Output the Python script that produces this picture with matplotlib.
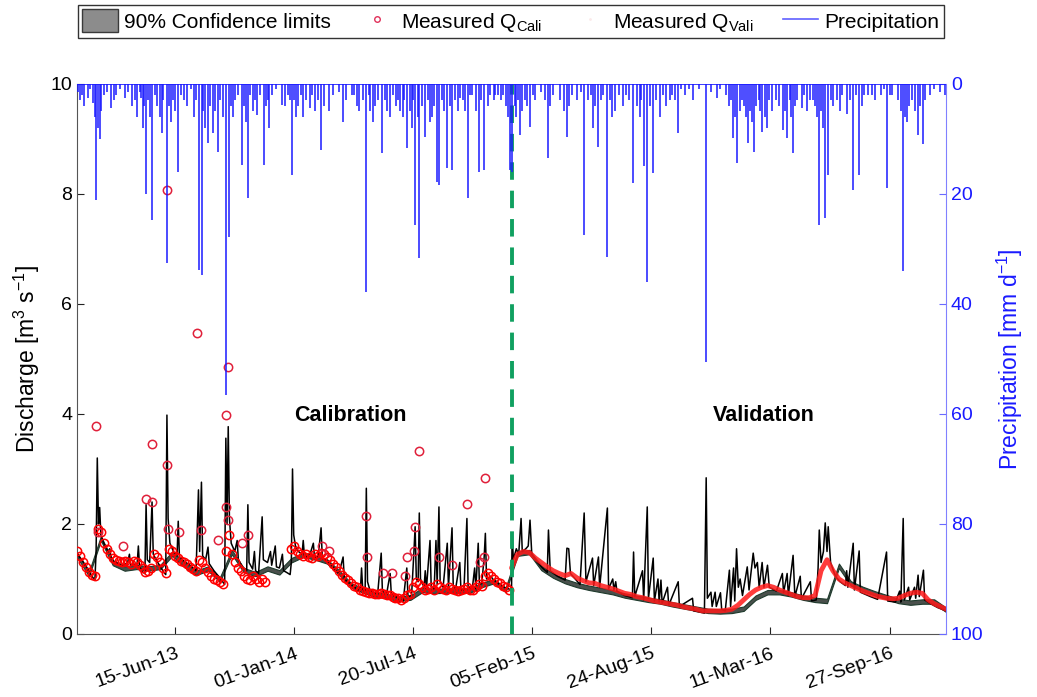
import numpy as np
import pandas as pd
import matplotlib
matplotlib.use("Agg")
import matplotlib.pyplot as plt
import matplotlib.dates as mdates
from matplotlib.patches import Patch
from matplotlib.lines import Line2D

plt.rcParams['font.family'] = ['Liberation Sans', 'DejaVu Sans']
plt.rcParams['mathtext.fontset'] = 'custom'
plt.rcParams['mathtext.rm'] = 'Liberation Sans'
plt.rcParams['mathtext.it'] = 'Liberation Sans:italic'
plt.rcParams['mathtext.bf'] = 'Liberation Sans:bold'

START = np.datetime64('2013-01-01')

# ---------------- data (days since 2013-01-01) ----------------
# simulated discharge, calibration period (2013-2014)
sim_days_cal = [0, 8, 17, 25, 30, 32, 34, 36, 38, 40, 45, 52, 55, 57, 62, 70, 78, 85, 88, 90, 101, 103, 105,
                111, 114, 116, 118, 122, 126, 128, 133, 140, 146, 149, 151, 153, 156, 162, 168, 170, 172, 180,
                190, 200, 204, 206, 209, 211, 216, 220, 222, 230, 240, 248, 250, 252, 254, 256, 259, 265, 269,
                271, 278, 285, 287, 289, 295, 298, 300, 305, 311, 313, 320, 325, 327, 333, 335, 340, 345, 347,
                352, 358, 360, 362, 364, 367, 372, 378, 380, 382, 390, 397, 399, 405, 410, 412, 420, 428, 435,
                440, 447, 449, 460, 470, 476, 478, 480, 484, 486, 488, 492, 500, 505, 511, 513, 520, 526, 528,
                535, 543, 548, 554, 556, 562, 566, 568, 570, 573, 575, 577, 583, 585, 587, 593, 595, 600, 603,
                605, 608, 610, 615, 622, 624, 630, 632, 636, 643, 645, 650, 655, 657, 664, 668, 670, 674, 676,
                680, 684, 686, 688, 695, 700, 710, 718, 725, 729]
sim_q_cal = [1.45, 1.35, 1.2, 1.05, 0.98, 1.5, 3.2, 2.0, 2.3, 1.8, 1.65, 1.5, 1.55, 1.4, 1.32, 1.28, 1.25, 1.3,
             1.45, 1.25, 1.28, 1.6, 1.22, 1.12, 1.1, 2.35, 1.35, 1.3, 2.4, 1.45, 1.35, 1.22, 1.12, 1.08, 3.98,
             2.1, 1.65, 1.5, 1.42, 2.05, 1.4, 1.32, 1.25, 1.15, 2.62, 1.5, 2.76, 1.42, 1.35, 1.58, 1.28, 1.15,
             1.02, 0.9, 3.56, 2.0, 3.77, 2.1, 1.65, 1.5, 1.7, 1.35, 1.22, 1.15, 2.35, 1.3, 1.18, 1.5, 1.15, 1.1,
             2.13, 1.35, 1.3, 1.5, 1.25, 1.6, 1.22, 1.2, 1.45, 1.15, 1.12, 1.08, 1.3, 3.0, 1.8, 1.6, 1.5, 1.45,
             1.7, 1.42, 1.4, 1.65, 1.38, 1.4, 1.93, 1.38, 1.32, 1.25, 1.15, 1.1, 1.4, 1.0, 0.9, 0.82, 0.78, 1.2,
             0.8, 0.78, 2.65, 0.95, 0.8, 0.75, 0.72, 1.47, 0.78, 0.72, 1.1, 0.72, 0.68, 0.62, 0.6, 1.2, 0.68,
             0.7, 1.5, 1.95, 1.0, 0.95, 2.2, 1.0, 0.85, 1.15, 0.82, 1.7, 0.85, 0.82, 1.7, 0.9, 2.31, 0.95, 0.85,
             1.65, 0.85, 1.93, 0.88, 0.82, 1.3, 0.8, 0.8, 2.1, 0.85, 0.82, 1.2, 0.82, 1.65, 0.9, 0.92, 1.4,
             1.83, 1.0, 1.05, 0.98, 0.9, 0.85, 0.82, 0.8]

# simulated discharge, validation period (2015-2016)
sim_days_val = [730, 731, 733, 738, 742, 746, 748, 754, 758, 761, 764, 772, 782, 790, 792, 795, 807, 820, 823,
                826, 829, 845, 852, 855, 866, 868, 876, 878, 891, 893, 900, 902, 905, 907, 920, 933, 935, 937,
                950, 952, 958, 960, 968, 970, 976, 978, 981, 983, 992, 994, 1010, 1012, 1034, 1036, 1054, 1057,
                1059, 1065, 1067, 1072, 1074, 1081, 1083, 1089, 1096, 1098, 1103, 1105, 1108, 1111, 1114, 1118,
                1126, 1129, 1136, 1139, 1143, 1146, 1151, 1154, 1160, 1163, 1175, 1185, 1187, 1193, 1195, 1203,
                1206, 1215, 1217, 1232, 1234, 1242, 1245, 1247, 1250, 1254, 1257, 1260, 1262, 1266, 1274, 1282,
                1291, 1293, 1295, 1304, 1306, 1314, 1316, 1333, 1345, 1360, 1362, 1375, 1382, 1384, 1388, 1390,
                1397, 1399, 1407, 1409, 1413, 1415, 1422, 1424, 1434, 1446, 1460]
sim_q_val = [0.85, 1.83, 1.35, 1.55, 1.45, 2.1, 1.5, 1.55, 1.6, 2.07, 1.45, 1.32, 1.2, 1.12, 1.89, 1.15, 1.05,
             0.98, 1.56, 1.55, 1.1, 0.9, 2.2, 0.95, 1.38, 0.88, 1.4, 0.85, 2.29, 0.82, 1.0, 0.8, 0.95, 0.78, 0.7,
             0.66, 1.49, 0.68, 1.15, 0.62, 2.31, 0.65, 1.38, 0.6, 1.0, 0.58, 0.98, 0.56, 0.85, 0.52, 0.95, 0.5,
             0.65, 0.42, 0.38, 2.84, 0.65, 0.76, 0.5, 0.76, 0.5, 0.75, 0.45, 0.42, 1.16, 0.5, 1.2, 0.6, 1.55,
             0.85, 1.0, 0.7, 1.22, 0.8, 1.47, 1.2, 1.3, 0.85, 1.3, 0.85, 1.25, 0.85, 0.78, 1.1, 0.75, 1.1, 0.7,
             1.43, 0.68, 1.05, 0.64, 0.95, 0.6, 0.62, 1.2, 1.89, 1.3, 1.5, 2.02, 1.5, 1.95, 1.3, 1.05, 0.95,
             0.88, 1.15, 0.85, 1.65, 0.8, 1.51, 0.76, 0.68, 0.63, 1.49, 0.6, 0.58, 0.78, 0.58, 2.1, 0.62, 0.85,
             0.62, 0.85, 0.65, 1.07, 0.68, 1.16, 0.62, 0.55, 0.48, 0.42]

# 90% confidence limits (every 20 days)
band_days = list(range(0, 1461, 20))
band_lo = [1.40, 1.05, 1.70, 1.25, 1.15, 1.18, 1.15, 1.18, 1.42, 1.22, 1.07, 1.15, 0.95, 1.45, 1.12, 1.05, 1.15,
           1.08, 1.30, 1.40, 1.35, 1.28, 1.08, 0.85, 0.75, 0.68, 0.65, 0.60, 0.62, 0.76, 0.74, 0.75, 0.75,
           0.75, 0.85, 0.92, 0.76, 1.42, 1.45, 1.16, 1.02, 0.92, 0.85, 0.80, 0.76, 0.72, 0.66, 0.62, 0.58,
           0.55, 0.50, 0.46, 0.42, 0.38, 0.37, 0.38, 0.42, 0.62, 0.72, 0.72, 0.68, 0.62, 0.58, 0.56, 1.20,
           0.88, 0.78, 0.70, 0.63, 0.56, 0.53, 0.55, 0.55, 0.40]
band_hi = [1.48, 1.13, 1.78, 1.33, 1.23, 1.26, 1.23, 1.26, 1.50, 1.30, 1.15, 1.23, 1.03, 1.53, 1.20, 1.13, 1.23,
           1.16, 1.38, 1.48, 1.43, 1.36, 1.16, 0.93, 0.83, 0.76, 0.73, 0.68, 0.70, 0.84, 0.82, 0.83, 0.83,
           0.83, 0.93, 1.00, 0.84, 1.50, 1.53, 1.24, 1.10, 1.00, 0.93, 0.88, 0.84, 0.80, 0.74, 0.70, 0.66,
           0.63, 0.58, 0.54, 0.50, 0.46, 0.45, 0.46, 0.50, 0.70, 0.80, 0.80, 0.76, 0.70, 0.66, 0.64, 1.28,
           0.96, 0.86, 0.78, 0.71, 0.64, 0.61, 0.63, 0.63, 0.48]

# measured discharge, calibration (every 5 days; NaN = missing)
nan = np.nan
meas_cal = [1.50, 1.42, 1.30, 1.22, 1.12, 1.08, 1.05, 1.90, 1.85, 1.65, 1.55, 1.45, 1.38, 1.35, 1.32, 1.30,
            1.33, 1.30, 1.28, 1.32, 1.30, 1.25, 1.20, 1.12, 1.15, 1.20, 1.45, 1.40, 1.30, 1.20, 1.10, 1.55,
            1.50, 1.42, 1.38, 1.32, 1.30, 1.27, 1.22, 1.18, 1.15, 1.35, 1.30, 1.20, 1.12, 1.05, 1.00, 0.98,
            0.95, 0.90, 1.50, 1.80, 1.45, 1.30, 1.20, 1.15, 1.05, 1.00, 0.98, 1.05, 1.00, 0.95, 1.00, 0.95,
            nan, nan, nan, nan, nan, nan, nan, nan, 1.55, 1.60, 1.50, 1.45, 1.42, 1.45, 1.40, 1.38, 1.45,
            1.42, 1.48, 1.45, 1.40, 1.35, 1.28, 1.22, 1.15, 1.08, 1.02, 0.98, 0.92, 0.88, 0.85, 0.80, 0.78,
            0.76, 0.75, 0.74, 0.73, 0.72, 0.75, 0.72, 0.70, 0.70, 0.68, 0.66, 0.65, 0.62, 0.65, 0.70, 0.72,
            0.85, 0.95, 0.90, 0.85, 0.80, 0.82, 0.85, 0.80, 0.90, 0.85, 0.82, 0.80, 0.85, 0.82, 0.80, 0.78,
            0.80, 0.82, 0.85, 0.80, 0.80, 0.85, 0.90, 0.88, 1.05, 1.10, 1.05, 1.00, 0.95, 0.92, 0.88, 0.85,
            0.80]
# measured calibration points off the baseline (peaks / outliers)
cal_peak_days = [32, 36, 78, 116, 126, 126, 151, 151, 153, 171, 202, 208, 237, 250, 250, 254, 254, 277, 287,
                 412, 423, 486, 487, 514, 529, 551, 554, 566, 568, 575, 608, 630, 655, 677, 683, 686]
cal_peak_q = [3.78, 1.85, 1.60, 2.45, 3.45, 2.40, 3.07, 8.07, 1.90, 1.85, 5.47, 1.89, 1.70, 3.98, 2.30, 4.86,
              2.07, 1.65, 1.80, 1.60, 1.50, 2.15, 1.40, 1.10, 1.10, 1.05, 1.40, 1.50, 1.95, 3.33, 1.40, 1.25,
              2.36, 1.30, 1.40, 2.84]

# measured discharge, validation (every 10 days)
meas_val = [1.20, 1.45, 1.50, 1.48, 1.38, 1.30, 1.22, 1.15, 1.10, 1.06, 1.10, 1.02, 0.97, 0.93, 0.92, 0.88,
            0.85, 0.82, 0.78, 0.74, 0.72, 0.68, 0.66, 0.63, 0.60, 0.58, 0.56, 0.54, 0.52, 0.49, 0.47, 0.45,
            0.42, 0.42, 0.42, 0.42, 0.43, 0.45, 0.52, 0.62, 0.72, 0.80, 0.85, 0.88, 0.85, 0.80, 0.76, 0.72,
            0.68, 0.66, 0.66, 0.70, 1.15, 1.35, 1.15, 1.00, 0.93, 0.88, 0.83, 0.78, 0.74, 0.70, 0.67, 0.65,
            0.64, 0.65, 0.70, 0.74, 0.76, 0.74, 0.62, 0.55, 0.50, 0.45]

# precipitation events (day, mm d-1)
rain_days = [32, 57, 101, 111, 116, 126, 151, 170, 185, 205, 210, 220, 237, 250, 255, 262, 277, 287, 302, 314,
             323, 344, 361, 368, 380, 391, 410, 423, 447, 462, 474, 486, 497, 512, 526, 543, 554, 568, 575,
             585, 593, 605, 608, 622, 630, 643, 657, 664, 675, 684, 702, 716, 727, 731, 744, 761, 791, 823,
             852, 867, 875, 890, 904, 934, 953, 958, 968, 979, 996, 1010, 1035, 1057, 1075, 1102, 1109, 1127,
             1137, 1151, 1159, 1186, 1193, 1203, 1218, 1231, 1247, 1257, 1262, 1282, 1294, 1304, 1314, 1329,
             1361, 1369, 1388, 1394, 1413, 1421, 1433, 1458,
             2, 5, 9, 12, 18, 22, 27, 30, 35, 38, 41, 45, 50, 62, 66, 72, 80, 85, 92, 97, 105, 108, 113, 120,
             123, 131, 135, 140, 142, 145, 155, 158, 162, 165, 175, 180, 192, 197, 200, 212, 215, 224, 228,
             232, 240, 245, 258, 266, 270, 280, 284, 290, 295, 299, 307, 317, 320, 328, 335, 350, 355, 358,
             364, 372, 376, 384, 395, 400, 404, 415, 430, 440, 452, 466, 470, 480, 490, 493, 500, 505, 518,
             521, 530, 536, 540, 548, 550, 560, 562, 565, 572, 580, 590, 597, 600, 613, 617, 627, 635, 640,
             648, 652, 660, 670, 679, 690, 694, 700, 708, 712, 720, 724,
             735, 738, 741, 748, 752, 756, 766, 770, 780, 787, 795, 800, 812, 818, 826, 832, 840, 846, 858,
             864, 871, 880, 884, 895, 898, 910, 918, 922, 928, 940, 945, 948, 962, 972, 985, 990, 1000, 1005,
             1015, 1022, 1028, 1045, 1065, 1080, 1090, 1095, 1099, 1105, 1113, 1117, 1121, 1124, 1131, 1134,
             1140, 1145, 1148, 1155, 1163, 1168, 1175, 1180, 1189, 1197, 1200, 1206, 1210, 1222, 1226, 1236,
             1240, 1244, 1250, 1253, 1266, 1270, 1277, 1286, 1298, 1308, 1318, 1322, 1336, 1340, 1350, 1355,
             1365, 1380, 1384, 1391, 1398, 1402, 1407, 1416, 1425, 1440, 1450]
rain_mm = [21.1, 4.4, 6.0, 8.0, 20.0, 24.7, 32.5, 16.0, 4.0, 33.8, 34.7, 10.7, 12.4, 56.5, 27.9, 6.0, 14.7,
           20.7, 5.6, 14.7, 8.0, 3.8, 16.5, 6.0, 6.0, 4.4, 12.0, 5.0, 7.0, 2.0, 5.0, 37.8, 7.0, 12.5, 6.0,
           5.0, 11.6, 25.6, 31.6, 9.6, 7.0, 17.8, 18.4, 15.3, 15.6, 2.5, 20.7, 2.0, 16.0, 15.6, 2.0, 2.0,
           15.6, 16.0, 9.3, 7.8, 13.5, 9.6, 27.5, 8.0, 11.5, 31.5, 5.0, 18.0, 15.0, 36.0, 16.2, 6.0, 3.0, 9.0,
           3.0, 50.5, 2.5, 9.8, 14.4, 10.7, 12.4, 8.7, 8.0, 8.4, 9.8, 12.5, 4.4, 3.0, 25.6, 24.4, 16.5, 5.0,
           5.5, 19.3, 16.5, 2.0, 18.9, 2.0, 34.0, 7.0, 9.3, 11.0, 2.0, 2.0,
           1.5, 3, 2, 4, 2.5, 1, 3.5, 6, 8, 10, 5, 2, 1.5, 3, 2, 1, 2.5, 1.5, 4, 3, 1.5, 2.5, 4, 3, 6, 2, 4,
           6, 9, 3, 4, 7, 3, 5, 2, 3, 1, 6, 3, 5, 8, 4, 9, 5, 3, 6, 4, 3, 2, 4, 7, 2, 5, 3, 2, 4, 3, 2, 1, 4,
           2, 3, 3, 4, 2, 3, 2, 5, 3, 4, 2, 1.5, 3, 2, 4, 3, 2, 5, 4, 3, 3, 5, 2, 4, 3, 6, 3, 5, 8, 3, 6, 4,
           3, 6, 4, 3, 5, 4, 3, 5, 3, 5, 2, 5, 3, 4, 2, 3, 2, 3, 4, 6,
           4, 6, 3, 5, 3, 4, 2, 3, 1.5, 3, 4, 2, 3, 5, 4, 2, 3, 1.5, 3, 2, 4, 3, 2, 3, 6, 2, 4, 2, 3, 4, 6,
           3, 4, 3, 2, 4, 2, 3, 1, 2, 1, 1, 1.5, 1, 2, 4, 3, 6, 5, 3, 4, 6, 5, 7, 4, 3, 5, 6, 3, 5, 3, 4, 5,
           3, 6, 4, 3, 2, 5, 3, 4, 6, 5, 8, 3, 4, 3, 2, 3, 2, 4, 2, 2, 3, 2, 1, 2, 3, 5, 6, 4, 3, 5, 4, 3, 1,
           1.5]

split_day = 730
tick_dates = pd.date_range('2013-06-15', periods=7, freq='200D')

# ---------------- plotting ----------------
def to_dt(days):
    return START + np.asarray(days, dtype='timedelta64[D]')

fig = plt.figure(figsize=(10.37, 6.97), dpi=100)
ax = fig.add_axes([0.0743, 0.0904, 0.8380, 0.7891])

ax.fill_between(to_dt(band_days), band_lo, band_hi, facecolor='#4a504c', edgecolor='#1e3a2c',
                linewidth=0.8, zorder=1)
ax.plot(to_dt(sim_days_cal + sim_days_val), sim_q_cal + sim_q_val, color='black', lw=1.1, zorder=2)
ax.plot(to_dt(np.arange(0, split_day, 5)), meas_cal, linestyle='none', marker='o', ms=6, mfc='none',
        mec='#ff0000', mew=1.1, zorder=3)
ax.plot(to_dt(cal_peak_days), cal_peak_q, linestyle='none', marker='o', ms=6, mfc='none',
        mec='#e0203a', mew=1.1, zorder=3)
ax.plot(to_dt(np.arange(split_day, 1461, 10)), meas_val, color='#ff1a1a', lw=3.5, alpha=0.85,
        solid_capstyle='round', zorder=3)
ax.axvline(to_dt([split_day])[0], color='#10a060', lw=2.8, dashes=(4.5, 2.8), zorder=4)

ax.text(to_dt([460])[0], 3.98, 'Calibration', fontsize=15.5, fontweight='bold', ha='center', va='center')
ax.text(to_dt([1153])[0], 3.98, 'Validation', fontsize=15.5, fontweight='bold', ha='center', va='center')

ax.set_ylim(0, 10)
ax.set_yticks(range(0, 11, 2))
ax.set_xlim(to_dt([0])[0], to_dt([1460])[0])
ax.set_xticks(tick_dates)
ax.xaxis.set_major_formatter(mdates.DateFormatter('%d-%b-%y'))
for lab in ax.get_xticklabels():
    lab.set_rotation(20)
    lab.set_ha('right')
    lab.set_rotation_mode('anchor')
ax.tick_params(axis='both', direction='in', length=5, labelsize=14, colors='#222222', labelcolor='black')
ax.tick_params(axis='x', pad=8)
ax.set_ylabel('Discharge [m$^3$ s$^{-1}$]', fontsize=16.5, labelpad=6)
for s in ['left', 'bottom']:
    ax.spines[s].set_color('#555555')
ax.spines['top'].set_visible(False)
ax.spines['right'].set_visible(False)

ax2 = ax.twinx()
ax2.vlines(to_dt(rain_days), 0, rain_mm, color='#1a1aff', lw=1.1)
ax2.axhline(0, color='#1a1aff', lw=1.2)
ax2.set_ylim(100, 0)
ax2.set_yticks(range(0, 101, 20))
ax2.tick_params(axis='y', direction='in', length=5, labelsize=14, colors='#6a6aff', labelcolor='#1a1aff')
ax2.set_ylabel('Precipitation [mm d$^{-1}$]', fontsize=16.5, color='#1a1aff', labelpad=8)
ax2.spines['right'].set_color('#8080ff')
ax2.spines['top'].set_visible(False)
ax2.spines['left'].set_visible(False)
ax2.spines['bottom'].set_visible(False)

handles = [Patch(facecolor='#8c8c8c', edgecolor='#3a3a3a', linewidth=1.0),
           Line2D([], [], linestyle='none', marker='o', ms=4, mfc='none', mec='#e0305a', mew=1.0),
           Line2D([], [], linestyle='none', marker='.', ms=2, color='#fbeaea'),
           Line2D([], [], color='#6060ff', lw=1.2)]
labels = ['90% Confidence limits', 'Measured Q$_{\\mathrm{Cali}}$', 'Measured Q$_{\\mathrm{Vali}}$',
          'Precipitation']
leg = fig.legend(handles, labels, loc='lower left', bbox_to_anchor=(0.0752, 0.9455, 0.835, 0.05),
                 mode='expand', ncol=4, fontsize=15, frameon=True, fancybox=False, edgecolor='black',
                 handlelength=1.7, handleheight=1.3, handletextpad=0.3, borderpad=0.2, borderaxespad=0.0)
leg.get_frame().set_linewidth(1.0)

fig.savefig('out.png', dpi=100)
